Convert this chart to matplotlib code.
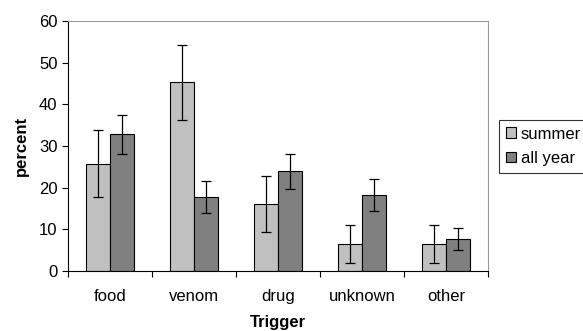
import matplotlib
matplotlib.use("Agg")
import matplotlib.pyplot as plt
import numpy as np

plt.rcParams['font.family'] = ['Liberation Sans', 'DejaVu Sans']

# Data
categories = ["food", "venom", "drug", "unknown", "other"]
summer = [25.8, 45.3, 16.0, 6.5, 6.5]
summer_lo = [17.8, 36.2, 9.4, 2.0, 2.0]
summer_hi = [33.8, 54.2, 22.9, 11.0, 11.0]
allyear = [32.8, 17.8, 23.9, 18.3, 7.6]
allyear_lo = [28.2, 14.0, 19.8, 14.5, 5.0]
allyear_hi = [37.4, 21.6, 28.2, 22.0, 10.3]

summer = np.array(summer)
allyear = np.array(allyear)
err_s = [summer - np.array(summer_lo), np.array(summer_hi) - summer]
err_a = [allyear - np.array(allyear_lo), np.array(allyear_hi) - allyear]

fig = plt.figure(figsize=(5.83, 3.31), dpi=100)
ax = fig.add_axes([0.1166, 0.181, 0.7204, 0.7556])

x = np.arange(len(categories))
w = 1 / 3.5
ekw = dict(ecolor="black", elinewidth=0.9, capsize=3.5, capthick=0.9)
ax.bar(x - w / 2, summer, w, color="#c0c0c0", edgecolor="black", linewidth=0.8,
       yerr=err_s, error_kw=ekw, label="summer")
ax.bar(x + w / 2, allyear, w, color="#808080", edgecolor="black", linewidth=0.8,
       yerr=err_a, error_kw=ekw, label="all year")

fs = 12
ax.set_xlim(-0.5, len(categories) - 0.5)
ax.set_ylim(0, 60)
ax.set_yticks(range(0, 61, 10))
ax.set_xticks(x)
ax.set_xticklabels(categories)
ax.set_xticks(np.arange(-0.5, len(categories)), minor=True)
ax.tick_params(axis="x", which="major", length=0, pad=13, labelsize=fs)
ax.tick_params(axis="x", which="minor", length=4, direction="out", width=0.8)
ax.tick_params(axis="y", length=4, direction="out", width=0.8, labelsize=fs)

for s in ["top", "right"]:
    ax.spines[s].set_color("#999999")
for s in ["left", "bottom"]:
    ax.spines[s].set_color("black")

ax.set_ylabel("percent", fontsize=fs, fontweight="bold", labelpad=7)
ax.set_xlabel("Trigger", fontsize=fs, fontweight="bold", labelpad=8)

leg = fig.legend(loc="upper left", bbox_to_anchor=(499 / 583, 1 - 120 / 331),
                 fontsize=fs, frameon=True, fancybox=False, edgecolor="black",
                 handlelength=0.6, handleheight=0.6, handletextpad=0.3,
                 borderpad=0.4, labelspacing=0.55, borderaxespad=0)
leg.get_frame().set_linewidth(0.8)

fig.savefig("out.png", dpi=100)
